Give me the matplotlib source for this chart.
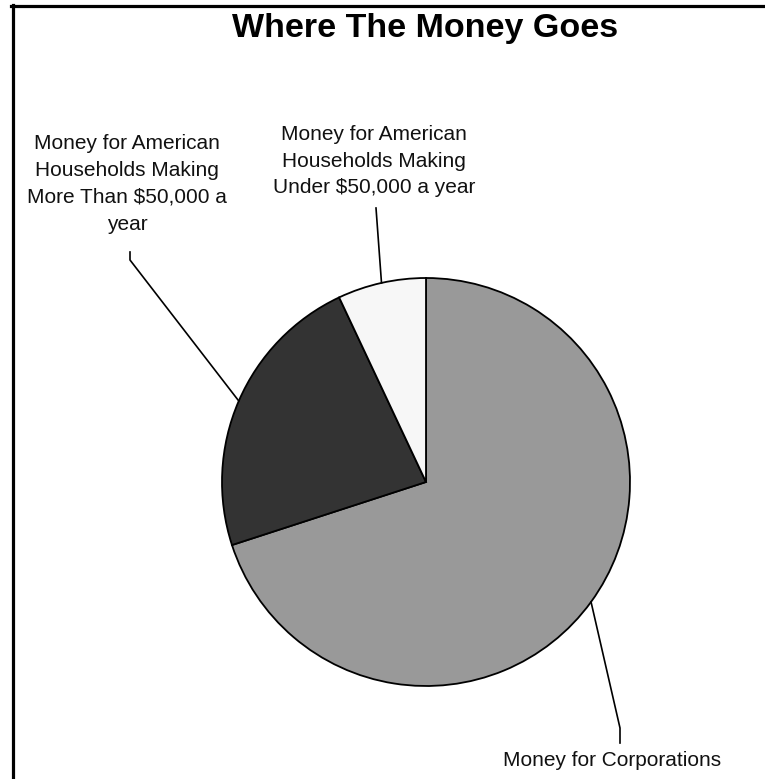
import numpy as np
import matplotlib.pyplot as plt
from matplotlib.lines import Line2D

W, H = 765, 779

labels = ["Money for Corporations",
          "Money for American\nHouseholds Making\nMore Than $50,000 a\nyear",
          "Money for American\nHouseholds Making\nUnder $50,000 a year"]
shares = [70, 23, 7]
colors = ["#999999", "#333333", "#f7f7f7"]

fig = plt.figure(figsize=(W / 100, H / 100), dpi=100)
ax = fig.add_axes([0, 0, 1, 1])

cx, cy, r = 426, H - 482, 204
wedges, _ = ax.pie(shares, colors=colors, startangle=90, counterclock=False,
                   center=(cx, cy), radius=r, frame=True,
                   wedgeprops=dict(edgecolor="black", linewidth=1.3))
ax.set_xlim(0, W)
ax.set_ylim(0, H)
ax.set_aspect("equal")
ax.axis("off")

# leader line elbows and label centres (pixels from top-left)
elbows = [[(620, 728), (620, 743)], [(130, 260), (130, 252)], [(376, 208)]]
text_pos = [(612, 761), (127, 184), (374, 161)]

for w, lab, el, tp in zip(wedges, labels, elbows, text_pos):
    a = np.deg2rad((w.theta1 + w.theta2) / 2)
    xs = [cx + r * np.cos(a)] + [p[0] for p in el]
    ys = [cy + r * np.sin(a)] + [H - p[1] for p in el]
    ax.plot(xs, ys, color="black", lw=1.2)
    ax.text(tp[0], H - tp[1], lab, ha="center", va="center", fontsize=15,
            family="Liberation Sans", color="#111111", linespacing=1.52)

ax.text(425, H - 28, "Where The Money Goes", ha="center", va="center",
        fontsize=24.5, fontweight="bold", family="Liberation Sans")

fig.add_artist(Line2D([12.5 / W, 12.5 / W], [0, 1 - 5 / H], color="black", lw=2.3,
                      transform=fig.transFigure))
fig.add_artist(Line2D([11 / W, 1], [1 - 6 / H, 1 - 6 / H], color="black", lw=2.3,
                      transform=fig.transFigure))

fig.savefig("out.png", dpi=100)
